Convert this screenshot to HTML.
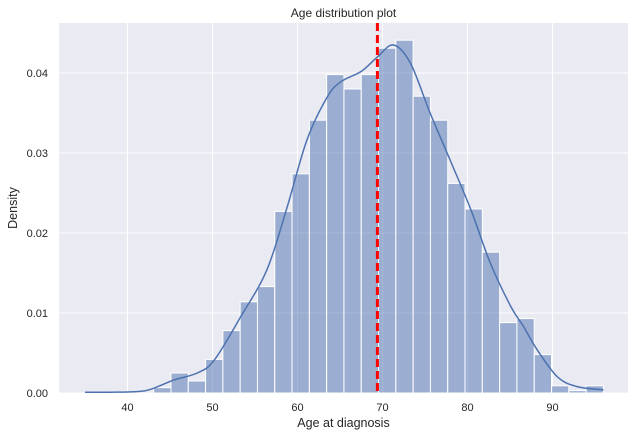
<!DOCTYPE html>
<html><head><meta charset="utf-8"><style>
body{margin:0;background:#fff}
svg{display:block;font-family:"Liberation Sans","DejaVu Sans",sans-serif}
</style></head><body>
<svg id="chart" width="636" height="436"></svg>
<script>
const binStart = 43.08;
const binWidth = 2.035;
const binDensity = [0.00067,0.0025,0.0015,0.0042,0.0078,0.0114,0.0133,0.0227,0.0274,0.0341,0.0398,0.0380,0.0398,0.0431,0.0441,0.0371,0.0341,0.0262,0.0230,0.0176,0.0088,0.0093,0.0048,0.0009,0.0003,0.0009];
const kdeAge = [35,38,41.5,43.1,45.4,48.2,50.2,53.3,56.4,58.8,61.1,63.5,65.1,67.5,69.4,71.3,73.3,75.6,78,80.4,82.7,85.1,86.6,88.2,90.6,92.9,96];
const kdeDensity = [0.0001,0.0001,0.0002,0.0006,0.0016,0.0025,0.0041,0.0095,0.0154,0.0233,0.0316,0.037,0.0389,0.0402,0.042,0.0435,0.0412,0.035,0.029,0.0229,0.0162,0.0108,0.0083,0.0054,0.002,0.0008,0.0004];
const xTicks = [40,50,60,70,80,90];
const yTicks = [0,0.01,0.02,0.03,0.04];
const yTickLabels = ["0.00","0.01","0.02","0.03","0.04"];
const meanAge = 69.4;

const L=59,R=628,T=23,B=393;
const xs = v => 127.5 + (v-40)*8.5;
const ys = v => B - v*8000;
const svg = document.getElementById('chart');
const NS='http://www.w3.org/2000/svg';
function mk(tag, attrs, parent){const e=document.createElementNS(NS,tag);for(const k in attrs)e.setAttribute(k,attrs[k]);(parent||svg).appendChild(e);return e;}

const bg = mk('rect',{x:L,y:T,width:R-L,height:B-T,fill:'#eaeaf2'});


xTicks.forEach(t=>{
  const g=mk('line',{x1:xs(t),x2:xs(t),y1:T,y2:B,stroke:'#fff','stroke-width':1});
  
  
  const tx=mk('text',{x:xs(t),y:411,'text-anchor':'middle','font-size':11,fill:'#262626'});
  tx.textContent=t;
  
  
});
yTicks.forEach((t,i)=>{
  const g=mk('line',{x1:L,x2:R,y1:ys(t),y2:ys(t),stroke:'#fff','stroke-width':1});
  
  
  const tx=mk('text',{x:48,y:ys(t)+4,'text-anchor':'end','font-size':11,fill:'#262626'});
  tx.textContent=yTickLabels[i];
  
  
});
binDensity.forEach((d,i)=>{
  const x0=xs(binStart+i*binWidth), x1=xs(binStart+(i+1)*binWidth);
  const r=mk('rect',{x:x0,y:ys(d),width:x1-x0,height:B-ys(d),fill:'rgba(76,114,176,0.5)',stroke:'#fff','stroke-width':1});
  
  
});
const pts = kdeAge.map((a,i)=>[xs(a),ys(kdeDensity[i])]);
let d='M'+pts[0][0]+','+pts[0][1];
for(let i=0;i<pts.length-1;i++){
  const p0=pts[Math.max(0,i-1)],p1=pts[i],p2=pts[i+1],p3=pts[Math.min(pts.length-1,i+2)];
  const c1=[p1[0]+(p2[0]-p0[0])/6,p1[1]+(p2[1]-p0[1])/6];
  const c2=[p2[0]-(p3[0]-p1[0])/6,p2[1]-(p3[1]-p1[1])/6];
  d+=` C${c1[0]},${c1[1]} ${c2[0]},${c2[1]} ${p2[0]},${p2[1]}`;
}
const kde=mk('path',{d:d,fill:'none',stroke:'#4c72b0','stroke-width':1.5});


const ml=mk('line',{x1:xs(meanAge),x2:xs(meanAge),y1:T,y2:B,stroke:'#ff0000','stroke-width':3,'stroke-dasharray':'8,4'});


const title=mk('text',{x:(L+R)/2,y:17,'text-anchor':'middle','font-size':12,fill:'#262626'});
title.textContent='Age distribution plot';


const xl=mk('text',{x:(L+R)/2,y:427,'text-anchor':'middle','font-size':12.5,fill:'#262626'});
xl.textContent='Age at diagnosis';


const yl=mk('text',{x:0,y:0,'text-anchor':'middle','font-size':12.5,fill:'#262626',transform:`translate(17,${(T+B)/2}) rotate(-90)`});
yl.textContent='Density';


</script>
</body></html>
